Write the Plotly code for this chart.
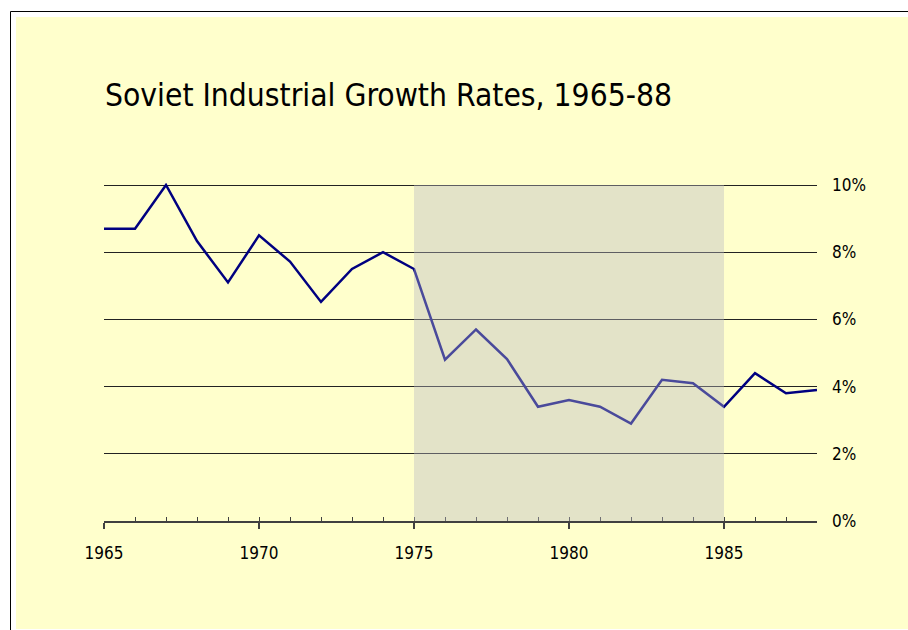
import plotly.graph_objects as go

# ---- data ----
years = list(range(1965, 1989))
growth_pct = [8.7, 8.7, 10.0, 8.33, 7.1, 8.5, 7.72, 6.52, 7.5, 8.0, 7.5,
              4.8, 5.7, 4.82, 3.4, 3.6, 3.4, 2.9, 4.2, 4.1, 3.4,
              4.4, 3.8, 3.9]
shade_period = [1975, 1985]
y_ticks = [0, 2, 4, 6, 8, 10]
y_tick_text = ["0%", "2%", "4%", "6%", "8%", "10%"]
x_ticks = [1965, 1970, 1975, 1980, 1985]
title_text = "Soviet Industrial Growth Rates, 1965-88"

# ---- layout constants (page pixel coordinates; body margin removed) ----
OFF = 0
W, H = 908, 630
PLOT_L, PLOT_R = 104, 817          # page px
PLOT_TOP_TICK, PLOT_BOT = 185, 521  # page px of 10% and 0%
EXTRA = 2                           # extra px above the top gridline
L = PLOT_L - OFF
T = PLOT_TOP_TICK - EXTRA - OFF
PW = PLOT_R - PLOT_L
PH = PLOT_BOT - PLOT_TOP_TICK + EXTRA
R = W - L - PW
B = H - T - PH
y_top = y_ticks[-1] * PH / (PLOT_BOT - PLOT_TOP_TICK)


def px_x(px):
    return (px - OFF - L) / PW


def px_y(py):
    return (H - B - (py - OFF)) / PH


FONT = "Tahoma, 'DejaVu Sans Condensed', 'DejaVu Sans', sans-serif"

fig = go.Figure()
fig.add_trace(go.Scatter(
    x=years, y=growth_pct, mode="lines",
    line=dict(color="#000080", width=2.5),
    cliponaxis=False, showlegend=False, hoverinfo="skip",
))
# empty trace on the minor-tick axis
fig.add_trace(go.Scatter(x=[years[0], years[-1]], y=[None, None], xaxis="x2",
                         showlegend=False, hoverinfo="skip"))

shapes = [
    # white margin strips and frame
    dict(type="rect", xref="paper", yref="paper", x0=px_x(-5), x1=px_x(960),
         y0=px_y(17), y1=px_y(-5), fillcolor="white", line_width=0, layer="below"),
    dict(type="rect", xref="paper", yref="paper", x0=px_x(-5), x1=px_x(16),
         y0=px_y(660), y1=px_y(-5), fillcolor="white", line_width=0, layer="below"),
    dict(type="rect", xref="paper", yref="paper", x0=px_x(-5), x1=px_x(960),
         y0=px_y(660), y1=px_y(629), fillcolor="white", line_width=0, layer="below"),
    dict(type="line", xref="paper", yref="paper", x0=px_x(10.5), x1=px_x(960),
         y0=px_y(11.5), y1=px_y(11.5), line=dict(color="black", width=1), layer="below"),
    dict(type="line", xref="paper", yref="paper", x0=px_x(10.5), x1=px_x(10.5),
         y0=px_y(11.5), y1=px_y(660), line=dict(color="black", width=1), layer="below"),
    # shaded period (drawn over the line, semi-transparent)
    dict(type="rect", xref="x", yref="y", x0=shade_period[0], x1=shade_period[1],
         y0=y_ticks[0], y1=y_ticks[-1], fillcolor="rgb(186,186,194)", opacity=0.4,
         line_width=0, layer="above"),
]

fig.update_layout(
    width=W, height=H,
    margin=dict(l=L, r=R, t=T, b=B, pad=0),
    paper_bgcolor="#FFFFCC",
    plot_bgcolor="rgba(0,0,0,0)",
    font=dict(family=FONT, color="black", size=17),
    title=dict(text=title_text, x=px_x(105), xref="paper", xanchor="left",
               y=1 - (95 - OFF) / H, yref="container", yanchor="middle",
               font=dict(family=FONT, size=31.5, color="black")),
    shapes=shapes,
    hovermode=False,
    xaxis=dict(range=[years[0], years[-1]], tickvals=x_ticks, ticks="outside",
               ticklen=6, tickcolor="#404040", tickwidth=1.5, showline=True,
               linecolor="#404040", linewidth=1.5, showgrid=False, zeroline=False,
               ticklabelstandoff=10, tickfont=dict(size=17, color="black")),
    xaxis2=dict(range=[years[0], years[-1]], overlaying="x", matches="x",
                tickmode="linear", tick0=years[0], dtick=1, ticks="inside",
                ticklen=4, tickcolor="#404040", tickwidth=1, showticklabels=False,
                showgrid=False, zeroline=False, showline=False, side="bottom"),
    yaxis=dict(range=[y_ticks[0], y_top], tickvals=y_ticks, ticktext=y_tick_text,
               side="right", showgrid=True, gridcolor="#222222", gridwidth=1,
               zeroline=False, showline=False, ticks="", ticklabelstandoff=14,
               tickfont=dict(size=17, color="black")),
)

fig.write_html("out.html",
               config={"displayModeBar": False},
               post_script="document.body.style.margin='0';"
                           "document.documentElement.style.overflow='hidden';"
                           "document.body.style.overflow='hidden';")
